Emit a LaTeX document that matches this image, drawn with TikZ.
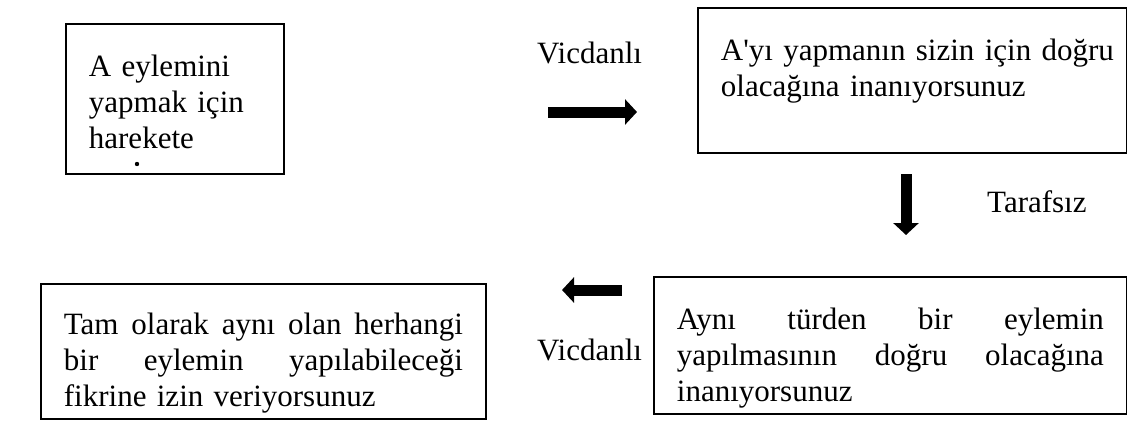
\documentclass[tikz,border=0pt]{standalone}
\usepackage{fontspec}
\setmainfont{Liberation Serif}
\usetikzlibrary{arrows.meta}
\tikzset{
	kutu/.style={draw, line width=1.8pt, anchor=north west, inner xsep=23pt, inner ysep=0pt, align=left, font=\fontsize{31}{35.6}\selectfont},
	etiket/.style={anchor=base west, inner sep=0pt, font=\fontsize{31}{35.6}\selectfont},
	kalinok/.style={line width=11pt, -{Triangle[length=12pt,width=25pt]}}
}
\begin{document}
\begin{tikzpicture}[x=1pt,y=-1pt]
			%%%%% START %%%%%
			\useasboundingbox (0,0) rectangle (1127,421);
			
			\node[kutu, text width=172pt, text height=53pt, text depth=97pt] (eylem) at (65,23) {A eylemini\\yapmak için\\harekete};
			\fill (137,164) circle (2.2);
			
			\node[kutu, text width=383pt, text height=53pt, text depth=92pt] (inanc) at (697,7) {\mbox{A\textquotesingle yı yapmanın sizin için doğru}\\olacağına inanıyorsunuz};
			
			\node[kutu, text width=427pt, text height=53pt, text depth=84pt] (tur) at (653,276) {Aynı\hfill türden\hfill bir\hfill eylemin\\yapılmasının\hfill doğru\hfill olacağına\\inanıyorsunuz};
			
			\node[kutu, text width=399pt, text height=51pt, text depth=84pt] (izin) at (40,283) {Tam\hfill olarak\hfill aynı\hfill olan\hfill herhangi\\bir\hfill eylemin\hfill yapılabileceği\\fikrine izin veriyorsunuz};
			
			\node[etiket] (vicdan1) at (537,63) {Vicdanlı};
			\node[etiket] (taraf) at (987,212) {Tarafsız};
			\node[etiket] (vicdan2) at (537,360) {Vicdanlı};
			
			\coordinate (ok1a) at (548,112);
			\coordinate (ok1b) at (637,112);
			\coordinate (ok2a) at (906,174);
			\coordinate (ok2b) at (906,235);
			\coordinate (ok3a) at (622,290);
			\coordinate (ok3b) at (562,290);
			\draw[kalinok] (ok1a) -- (ok1b);
			\draw[kalinok] (ok2a) -- (ok2b);
			\draw[kalinok] (ok3a) -- (ok3b);
			
			%%%%% END %%%%%
\end{tikzpicture}
\end{document}
